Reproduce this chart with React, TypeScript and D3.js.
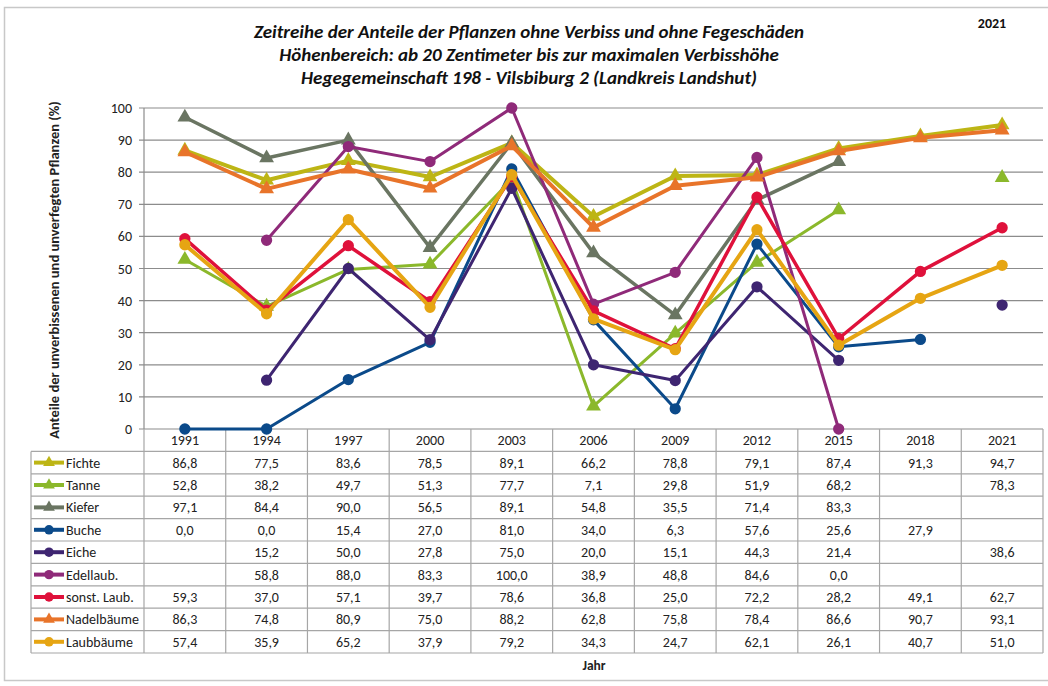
import React, { useEffect, useRef } from 'react';
import * as d3 from 'd3';

const years = ['1991', '1994', '1997', '2000', '2003', '2006', '2009', '2012', '2015', '2018', '2021'];

const fichte = [86.8, 77.5, 83.6, 78.5, 89.1, 66.2, 78.8, 79.1, 87.4, 91.3, 94.7];
const tanne = [52.8, 38.2, 49.7, 51.3, 77.7, 7.1, 29.8, 51.9, 68.2, null, 78.3];
const kiefer = [97.1, 84.4, 90.0, 56.5, 89.1, 54.8, 35.5, 71.4, 83.3, null, null];
const buche = [0.0, 0.0, 15.4, 27.0, 81.0, 34.0, 6.3, 57.6, 25.6, 27.9, null];
const eiche = [null, 15.2, 50.0, 27.8, 75.0, 20.0, 15.1, 44.3, 21.4, null, 38.6];
const edellaub = [null, 58.8, 88.0, 83.3, 100.0, 38.9, 48.8, 84.6, 0.0, null, null];
const sonstLaub = [59.3, 37.0, 57.1, 39.7, 78.6, 36.8, 25.0, 72.2, 28.2, 49.1, 62.7];
const nadelbaeume = [86.3, 74.8, 80.9, 75.0, 88.2, 62.8, 75.8, 78.4, 86.6, 90.7, 93.1];
const laubbaeume = [57.4, 35.9, 65.2, 37.9, 79.2, 34.3, 24.7, 62.1, 26.1, 40.7, 51.0];

const yTicks = [0, 10, 20, 30, 40, 50, 60, 70, 80, 90, 100];

type Value = number | null;
interface Serie {
  name: string;
  values: Value[];
  color: string;
  marker: 'triangle' | 'circle';
  width: number;
}

const series: Serie[] = [
  { name: 'Fichte', values: fichte, color: '#BDB515', marker: 'triangle', width: 4 },
  { name: 'Tanne', values: tanne, color: '#8BB82B', marker: 'triangle', width: 3 },
  { name: 'Kiefer', values: kiefer, color: '#6A7562', marker: 'triangle', width: 3.5 },
  { name: 'Buche', values: buche, color: '#0B4A8A', marker: 'circle', width: 3 },
  { name: 'Eiche', values: eiche, color: '#3E2571', marker: 'circle', width: 3 },
  { name: 'Edellaub.', values: edellaub, color: '#8F2A79', marker: 'circle', width: 3 },
  { name: 'sonst. Laub.', values: sonstLaub, color: '#DF113B', marker: 'circle', width: 3.5 },
  { name: 'Nadelbäume', values: nadelbaeume, color: '#E8742A', marker: 'triangle', width: 4 },
  { name: 'Laubbäume', values: laubbaeume, color: '#E6A513', marker: 'circle', width: 4 },
];

const fmt = (v: number) => v.toFixed(1).replace('.', ',');

export default function App() {
  const ref = useRef<SVGSVGElement>(null);

  useEffect(() => {
    const width = 1048;
    const margin = { top: 108, left: 144 };
    const plotRight = 1043;
    const axisY = 429;
    const rowH = 22.4;
    const font = "Calibri, Carlito, Lato, sans-serif";

    const svg = d3.select(ref.current);
    svg.selectAll('*').remove();

    svg
      .append('rect')
      .attr('x', 4.5)
      .attr('y', 7.5)
      .attr('width', width + 10)
      .attr('height', 673)
      .attr('fill', 'white')
      .attr('stroke', '#c8c8c8')
      .attr('stroke-width', 1.5);

    const xScale = d3.scaleBand().domain(years).range([margin.left, plotRight]);
    const yScale = d3.scaleLinear().domain([0, 100]).range([axisY, margin.top]);
    const xc = (i: number) => (xScale(years[i]) as number) + xScale.bandwidth() / 2;

    // grid lines
    svg
      .append('g')
      .selectAll('line')
      .data(yTicks)
      .enter()
      .append('line')
      .attr('x1', margin.left - 5)
      .attr('x2', plotRight)
      .attr('y1', (d) => yScale(d))
      .attr('y2', (d) => yScale(d))
      .attr('stroke', '#8c8c8c')
      .attr('stroke-width', 1.2);

    // y tick labels
    svg
      .append('g')
      .selectAll('text')
      .data(yTicks)
      .enter()
      .append('text')
      .attr('x', margin.left - 12)
      .attr('y', (d) => yScale(d) + 5)
      .attr('text-anchor', 'end')
      .attr('font-family', font)
      .attr('font-size', 14)
      .attr('fill', '#222')
      .text((d) => d);

    // y axis label
    svg
      .append('text')
      .attr('transform', `translate(59, 270) rotate(-90)`)
      .attr('text-anchor', 'middle')
      .attr('font-family', font)
      .attr('font-weight', 'bold')
      .attr('font-size', 14.5)
      .attr('fill', '#222')
      .text('Anteile der unverbissenen und unverfegten Pflanzen (%)');

    // table grid
    const tableTop = axisY;
    const tableBottom = axisY + rowH * (series.length + 1);
    const legendLeft = 31;
    const tg = svg.append('g').attr('stroke', '#a6a6a6').attr('stroke-width', 1.2);

    years.forEach((y) => {
      tg.append('line')
        .attr('x1', xScale(y) as number)
        .attr('x2', xScale(y) as number)
        .attr('y1', tableTop)
        .attr('y2', tableBottom);
    });
    tg.append('line')
      .attr('x1', plotRight)
      .attr('x2', plotRight)
      .attr('y1', tableTop)
      .attr('y2', tableBottom);
    tg.append('line')
      .attr('x1', legendLeft)
      .attr('x2', legendLeft)
      .attr('y1', tableTop + rowH)
      .attr('y2', tableBottom);
    svg
      .append('line')
      .attr('x1', margin.left)
      .attr('x2', margin.left)
      .attr('y1', margin.top)
      .attr('y2', axisY)
      .attr('stroke', '#8c8c8c')
      .attr('stroke-width', 1.2);

    for (let r = 1; r <= series.length + 1; r++) {
      tg.append('line')
        .attr('x1', legendLeft)
        .attr('x2', plotRight)
        .attr('y1', tableTop + r * rowH)
        .attr('y2', tableTop + r * rowH);
    }

    // header years
    svg
      .append('g')
      .selectAll('text')
      .data(years)
      .enter()
      .append('text')
      .attr('x', (d, i) => xc(i))
      .attr('y', tableTop + rowH / 2 + 5)
      .attr('text-anchor', 'middle')
      .attr('font-family', font)
      .attr('font-size', 14)
      .attr('fill', '#222')
      .text((d) => d);

    const markerPath = (s: Serie, size: number) =>
      d3.symbol().type(s.marker === 'triangle' ? d3.symbolTriangle : d3.symbolCircle).size(size)();

    // table rows
    series.forEach((s, r) => {
      const cy = tableTop + (r + 1) * rowH + rowH / 2;
      const row = svg.append('g');
      row
        .append('line')
        .attr('x1', 34)
        .attr('x2', 64)
        .attr('y1', cy)
        .attr('y2', cy)
        .attr('stroke', s.color)
        .attr('stroke-width', 4);
      row
        .append('path')
        .attr('d', markerPath(s, s.marker === 'triangle' ? 60 : 70))
        .attr('transform', `translate(49, ${cy})`)
        .attr('fill', s.color);
      row
        .append('text')
        .attr('x', 66)
        .attr('y', cy + 5)
        .attr('font-family', font)
        .attr('font-size', 14)
        .attr('fill', '#222')
        .text(s.name);
      s.values.forEach((v, i) => {
        if (v === null) return;
        row
          .append('text')
          .attr('x', xc(i))
          .attr('y', cy + 5)
          .attr('text-anchor', 'middle')
          .attr('font-family', font)
          .attr('font-size', 14)
          .attr('fill', '#222')
          .text(fmt(v));
      });
    });

    // lines
    const line = d3
      .line<Value>()
      .defined((d) => d !== null)
      .x((d, i) => xc(i))
      .y((d) => yScale(d as number));

    series.forEach((s) => {
      const g = svg.append('g');
      g.append('path')
        .attr('d', line(s.values))
        .attr('fill', 'none')
        .attr('stroke', s.color)
        .attr('stroke-width', s.width)
        .attr('stroke-linejoin', 'round');
      g.selectAll('path.m')
        .data(s.values.map((v, i) => ({ v, i })).filter((d) => d.v !== null))
        .enter()
        .append('path')
        .attr('class', 'm')
        .attr('d', markerPath(s, s.marker === 'triangle' ? 95 : 100))
        .attr('transform', (d) => `translate(${xc(d.i)}, ${yScale(d.v as number)})`)
        .attr('fill', s.color);
    });

    // titles
    const titles = [
      'Zeitreihe der Anteile der Pflanzen ohne Verbiss und ohne Fegeschäden',
      'Höhenbereich: ab 20 Zentimeter bis zur maximalen Verbisshöhe',
      'Hegegemeinschaft 198 - Vilsbiburg 2 (Landkreis Landshut)',
    ];
    svg
      .append('g')
      .selectAll('text')
      .data(titles)
      .enter()
      .append('text')
      .attr('x', 529)
      .attr('y', (d, i) => 38 + i * 23)
      .attr('text-anchor', 'middle')
      .attr('font-family', font)
      .attr('font-weight', 'bold')
      .attr('font-style', 'italic')
      .attr('font-size', 19)
      .attr('fill', '#111')
      .text((d) => d);

    svg
      .append('text')
      .attr('x', 992)
      .attr('y', 28)
      .attr('text-anchor', 'middle')
      .attr('font-family', font)
      .attr('font-weight', 'bold')
      .attr('font-size', 14)
      .attr('fill', '#111')
      .text('2021');

    svg
      .append('text')
      .attr('x', 594)
      .attr('y', 670)
      .attr('text-anchor', 'middle')
      .attr('font-family', font)
      .attr('font-weight', 'bold')
      .attr('font-size', 13.5)
      .attr('fill', '#222')
      .text('Jahr');
  }, []);

  return (
    <svg
      ref={ref}
      width={1048}
      height={686}
      style={{ position: 'absolute', left: 0, top: 0, background: 'white' }}
    />
  );
}
